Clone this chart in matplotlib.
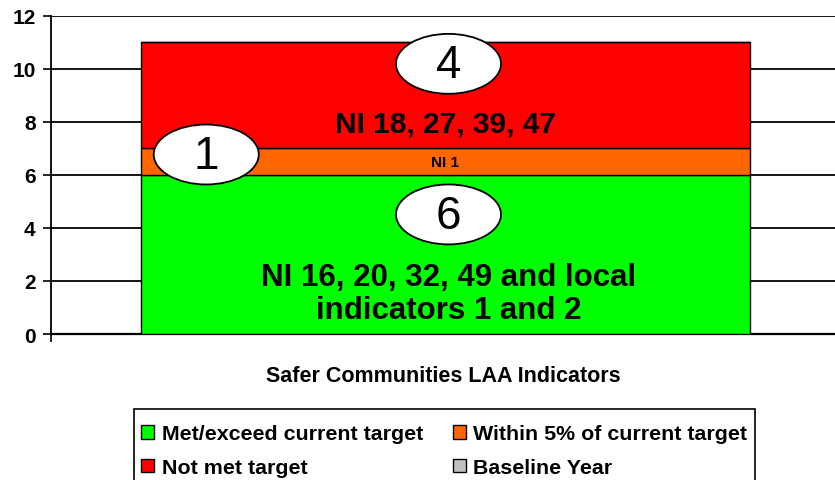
import matplotlib.pyplot as plt
from matplotlib.patches import Ellipse, Patch, Rectangle

""" Safer Communities LAA indicators - stacked status bar """
plt.rcParams['font.family'] = ['Liberation Sans', 'DejaVu Sans']

category = 'Safer Communities LAA Indicators'
series = ['Met/exceed current target', 'Within 5% of current target', 'Not met target', 'Baseline Year']
counts = [6, 1, 4, 0]
colours = ['#00FF00', '#FF6600', '#FF0000', '#C0C0C0']
segment_notes = ['NI 16, 20, 32, 49 and local\nindicators 1 and 2', 'NI 1', 'NI 18, 27, 39, 47', '']
yticks = [0, 2, 4, 6, 8, 10, 12]

W, H = 835, 481
fig = plt.figure(figsize=(W / 100, H / 100), dpi=100)
ax = fig.add_axes([0.0611, 0.3035, 0.9389, 0.6615])

bottom = 0
for name, val, col in zip(series, counts, colours):
    ax.bar(0, val, width=0.776, bottom=bottom, color=col, edgecolor='black', linewidth=1.0, zorder=3, label=name)
    bottom += val

# text inside each segment
ax.text(0.004, 1.52, segment_notes[0], ha='center', va='center', fontsize=22.5, fontweight='bold', zorder=5, linespacing=1.12)
ax.text(0, 6.5, segment_notes[1], ha='center', va='center', fontsize=11, fontweight='bold', zorder=5)
ax.text(0, 7.95, segment_notes[2], ha='center', va='center', fontsize=21.5, fontweight='bold', zorder=5)

# count bubbles
bubbles = [(0.004, 4.51, counts[0]), (-0.305, 6.77, counts[1]), (0.004, 10.19, counts[2])]
for bx, by, n in bubbles:
    ax.add_patch(Ellipse((bx, by), 0.134, 2.26, facecolor='white', edgecolor='black', linewidth=1.3, zorder=6))
    ax.text(bx, by - 0.05, str(n), ha='center', va='center', fontsize=33, zorder=7)

ax.set_xlim(-0.503, 0.497)
ax.set_ylim(0, 12)
ax.set_yticks(yticks)
ax.set_yticklabels([str(t) for t in yticks], fontsize=15, fontweight='bold')
ax.set_xticks([-0.503])
ax.set_xticklabels([''])
ax.tick_params(axis='y', length=6, width=1.2, pad=5)
ax.tick_params(axis='x', length=6, width=1.2)
ax.yaxis.grid(True, color='black', linewidth=1.3, zorder=0)
ax.set_axisbelow(True)
for s in ['top', 'right']:
    ax.spines[s].set_visible(False)
ax.spines['left'].set_linewidth(1.3)
ax.spines['bottom'].set_linewidth(1.6)
ax.set_xlabel(category, fontsize=15.5, fontweight='bold', labelpad=13)

# legend frame runs off the bottom of the image, drawn by hand
fig.add_artist(Rectangle((134 / W, -20 / H), 621 / W, (H - 410 + 20) / H, transform=fig.transFigure,
                         facecolor='white', edgecolor='black', linewidth=1.2))
handles = [Patch(facecolor=c, edgecolor='black', linewidth=1.0) for c in colours]
order = [0, 2, 1, 3]
fig.legend([handles[i] for i in order], [series[i] for i in order], ncol=2,
           loc='upper left', bbox_to_anchor=(134 / W, 1 - 418 / H), frameon=False,
           prop={'size': 15.4, 'weight': 'bold'},
           handlelength=0.6, handleheight=0.6,
           handletextpad=0.35, columnspacing=1.4, labelspacing=0.69, borderpad=0.35,
           borderaxespad=0)

fig.savefig('out.png', dpi=100)
